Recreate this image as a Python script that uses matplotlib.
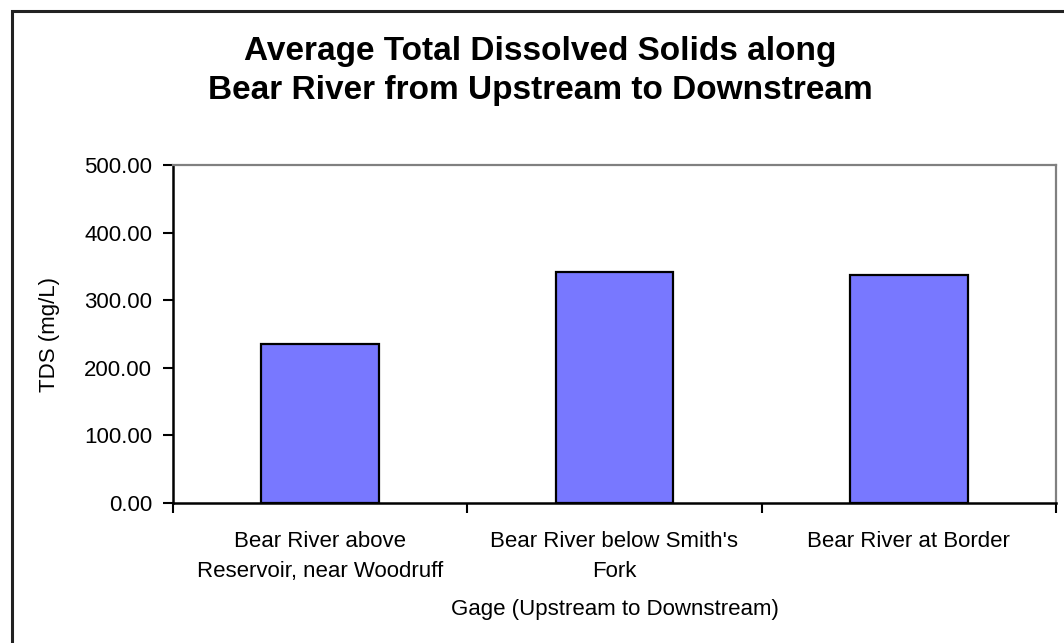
import matplotlib
matplotlib.use("Agg")
import matplotlib.pyplot as plt
from matplotlib.patches import Rectangle
from matplotlib.ticker import FixedLocator, FuncFormatter

plt.rcParams['font.family'] = ['Liberation Sans', 'DejaVu Sans']

# --- data ---
gages = ["Bear River above\nReservoir, near Woodruff",
         "Bear River below Smith's\nFork",
         "Bear River at Border"]
tds_mean = [235, 342, 337]
y_ticks = [0, 100, 200, 300, 400, 500]

BAR_COLOR = '#7878FF'

fig = plt.figure(figsize=(10.64, 6.43), dpi=100)
fig.patch.set_facecolor('white')

# chart frame (runs past the right/bottom edge)
fig.patches.append(Rectangle((12 / 1064, -0.05), 1.2, 1 - 11 / 643 + 0.05,
                             transform=fig.transFigure, fill=False,
                             edgecolor='#222222', linewidth=2.2, zorder=0))

ax = fig.add_axes([173 / 1064, 1 - 503 / 643, (1056 - 173) / 1064, (503 - 165) / 643])

x = list(range(len(gages)))
ax.bar(x, tds_mean, width=0.4, color=BAR_COLOR, edgecolor='black', linewidth=1.6, zorder=3)

ax.set_xlim(-0.5, len(gages) - 0.5)
ax.set_ylim(0, 500)

# y axis
ax.yaxis.set_major_locator(FixedLocator(y_ticks))
ax.yaxis.set_major_formatter(FuncFormatter(lambda v, _: f'{v:.2f}'))
ax.tick_params(axis='y', direction='out', length=7, width=1.5, labelsize=16, pad=8)

# x axis: ticks at category boundaries, labels at centres
ax.xaxis.set_major_locator(FixedLocator([i - 0.5 for i in range(len(gages) + 1)]))
ax.xaxis.set_major_formatter(FuncFormatter(lambda v, _: ''))
ax.xaxis.set_minor_locator(FixedLocator(x))
ax.set_xticklabels(gages, minor=True)
ax.tick_params(axis='x', which='major', direction='out', length=7, width=1.5)
ax.tick_params(axis='x', which='minor', length=0, labelsize=16, pad=20)
for lbl in ax.get_xticklabels(minor=True):
    lbl.set_linespacing(1.55)

for side in ('left', 'bottom'):
    ax.spines[side].set_color('black')
    ax.spines[side].set_linewidth(1.8)
for side in ('top', 'right'):
    ax.spines[side].set_color('#808080')
    ax.spines[side].set_linewidth(1.6)

ax.set_ylabel('TDS (mg/L)', fontsize=16)
ax.yaxis.set_label_coords(-0.128, 0.5)
ax.set_xlabel('Gage (Upstream to Downstream)', fontsize=16)
ax.xaxis.set_label_coords(0.5, -0.283)

fig.text(540 / 1064, 1 - 71 / 643,
         'Average Total Dissolved Solids along\nBear River from Upstream to Downstream',
         ha='center', va='center', fontsize=24, fontweight='bold', linespacing=1.36)

fig.savefig('out.png', dpi=100)
